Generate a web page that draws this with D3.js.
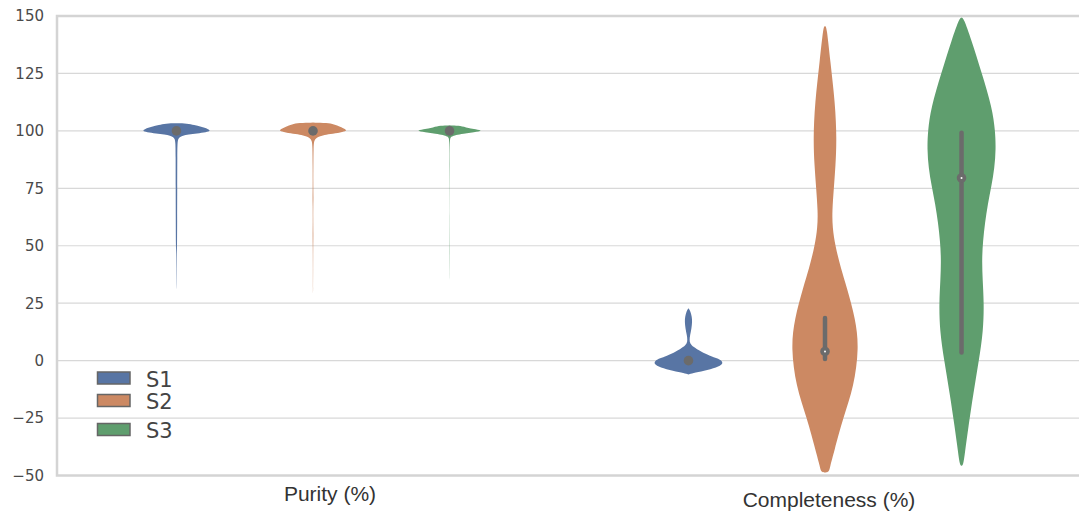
<!DOCTYPE html>
<html lang="en">
<head>
    <meta charset="UTF-8">
    <title>Purity and completeness violins</title>
    <script src="https://cdn.jsdelivr.net/npm/d3@7"></script>
    <style>
        body { margin: 0; background: #fff; }
        #chart { width: 1079px; height: 513px; overflow: hidden; }
    </style>
</head>
<body>
    <div id="chart"></div>
    <script>
        // Categories, series and tick values
        const categories = ["Purity (%)", "Completeness (%)"];
        const seriesNames = ["S1", "S2", "S3"];
        const seriesColors = ["#5875a4", "#cc8963", "#5f9e6e"];
        const yTicks = [-50, -25, 0, 25, 50, 75, 100, 125, 150];

        // Violin outlines: [value, relative half-width]
        const purityS1 = [[103.3,0],[103.2,0.32],[102.6,0.52],[101.8,0.72],[100.8,0.94],[100,1.0],[99.4,0.88],[98.9,0.6],[98.4,0.35],[97.9,0.18],[97.3,0.09],[96.5,0.05],[95,0.03],[90,0.024],[75,0.022],[60,0.02],[50,0.018],[47,0.008],[40,0.006],[33,0.004],[31,0]];
        const purityS2 = [[103.6,0],[103.5,0.42],[102.8,0.62],[101.8,0.8],[100.8,0.95],[100,1.0],[99.3,0.82],[98.6,0.5],[98,0.28],[97.3,0.14],[96.5,0.07],[95.5,0.03],[93,0.015],[85,0.01],[75,0.008],[71,0.014],[68,0.008],[60,0.006],[55,0.012],[50,0.006],[40,0.004],[30,0.003],[29.5,0]];
        const purityS3 = [[102.4,0],[102.3,0.27],[101.5,0.47],[100.7,0.78],[100,1.0],[99.4,0.72],[98.8,0.4],[98.2,0.18],[97.5,0.06],[97,0.02],[95,0.006],[88,0.004],[85,0.006],[80,0.003],[60,0.002],[42,0.004],[38,0.002],[35,0]];
        const completenessS1 = [[22.8,0],[21.5,0.06],[19,0.1],[17,0.11],[14,0.09],[11,0.045],[9,0.03],[7.5,0.045],[6,0.14],[4,0.36],[2,0.65],[1,0.84],[0,0.98],[-1.5,1.02],[-3,0.84],[-4.5,0.45],[-5.5,0.12],[-6,0]];
        const completenessS2 = [[145.6,0],[145.4,0.05],[131,0.15],[112,0.3],[96,0.345],[85,0.31],[75,0.26],[65,0.21],[58,0.22],[50,0.3],[40,0.47],[32,0.64],[18,0.9],[5.6,1.0],[-11.4,0.85],[-24.5,0.54],[-40,0.26],[-46,0.15],[-48.6,0.12],[-48.7,0]];
        const completenessS3 = [[149.3,0],[149.2,0.06],[140,0.28],[125,0.6],[110,0.9],[100,0.99],[92,1.01],[84,0.97],[76,0.88],[68,0.77],[60,0.69],[52,0.63],[44,0.6],[35,0.62],[25,0.66],[13,0.64],[0,0.51],[-14,0.35],[-29,0.2],[-40,0.1],[-45.6,0.05],[-45.8,0]];

        // Inner box stats per series: low end, median, high end
        const purityLow = [100, 100, 100];
        const purityMedian = [100, 100, 100];
        const purityHigh = [100, 100, 100];
        const completenessLow = [0, 0.7, 3.5];
        const completenessMedian = [0, 4, 79.5];
        const completenessHigh = [0, 18.5, 99.2];

        const violins = [
            { cat: categories[0], shapes: [purityS1, purityS2, purityS3], low: purityLow, med: purityMedian, high: purityHigh },
            { cat: categories[1], shapes: [completenessS1, completenessS2, completenessS3], low: completenessLow, med: completenessMedian, high: completenessHigh }
        ];

        const plotLeft = 57, plotTop = 16, plotBottom = 475.5, plotRight = 1081;
        const svg = d3.select("#chart").append("svg")
            .attr("width", 1079).attr("height", 513);

        const y = d3.scaleLinear().domain([-50, 150]).range([plotBottom, plotTop]);
        const x = d3.scaleBand().domain(categories).range([plotLeft, plotRight]);
        const hue = d3.scaleBand().domain(seriesNames)
            .range([x.bandwidth() * 0.1, x.bandwidth() * 0.9]);
        const w = d3.scaleLinear().domain([0, 1]).range([0, 34]);
        const color = d3.scaleOrdinal().domain(seriesNames).range(seriesColors);

        // grid
        svg.append("g").selectAll("line")
            .data(yTicks).enter().append("line")
            .attr("x1", plotLeft).attr("x2", plotRight)
            .attr("y1", d => y(d)).attr("y2", d => y(d))
            .attr("stroke", "#d8d8d8").attr("stroke-width", 1.2);

        // frame
        svg.append("rect")
            .attr("x", plotLeft).attr("y", plotTop)
            .attr("width", plotRight - plotLeft).attr("height", plotBottom - plotTop)
            .attr("fill", "none").attr("stroke", "#d4d4d4").attr("stroke-width", 2.5);

        // y axis
        const yAxis = svg.append("g")
            .attr("transform", `translate(${plotLeft},0)`)
            .call(d3.axisLeft(y).tickValues(yTicks).tickSize(0).tickPadding(13));
        yAxis.select(".domain").remove();
        yAxis.selectAll("text")
            .style("font-family", "DejaVu Sans, sans-serif")
            .style("font-size", "15px")
            .attr("fill", "#4a4a4a");

        // violins
        violins.forEach(v => {
            seriesNames.forEach((s, i) => {
                const cx = x(v.cat) + hue(s) + hue.bandwidth() / 2;
                const area = d3.area()
                    .curve(d3.curveBasis)
                    .y(d => y(d[0]))
                    .x0(d => cx - w(d[1]))
                    .x1(d => cx + w(d[1]));
                svg.append("path")
                    .datum(v.shapes[i])
                    .attr("d", area)
                    .attr("fill", color(s));

                if (v.high[i] > v.low[i]) {
                    svg.append("line")
                        .attr("x1", cx).attr("x2", cx)
                        .attr("y1", y(v.low[i])).attr("y2", y(v.high[i]))
                        .attr("stroke", "#6b6b6b").attr("stroke-width", 4.5)
                        .attr("stroke-linecap", "round");
                }
                svg.append("circle")
                    .attr("cx", cx).attr("cy", y(v.med[i]))
                    .attr("r", 4.8).attr("fill", "#6b6b6b");
                if (v.high[i] > v.low[i]) {
                    svg.append("circle")
                        .attr("cx", cx).attr("cy", y(v.med[i]))
                        .attr("r", 1).attr("fill", "#fff");
                }
            });
        });

        // category labels
        const labelShift = [[17, 501], [4, 507]];
        svg.append("g").selectAll("text")
            .data(categories).enter().append("text")
            .attr("x", (d, i) => x(d) + x.bandwidth() / 2 + labelShift[i][0])
            .attr("y", (d, i) => labelShift[i][1])
            .attr("text-anchor", "middle")
            .style("font-family", "Liberation Sans, Arial, sans-serif")
            .style("font-size", "21px")
            .attr("fill", "#333")
            .text(d => d);

        // legend
        const legendY = [372, 394.5, 423.5];
        const legend = svg.append("g");
        seriesNames.forEach((s, i) => {
            legend.append("rect")
                .attr("x", 97.5).attr("y", legendY[i])
                .attr("width", 32.5).attr("height", 12)
                .attr("fill", color(s))
                .attr("stroke", "#666").attr("stroke-width", 1.5);
            legend.append("text")
                .attr("x", 146).attr("y", legendY[i] + 14.5)
                .style("font-family", "DejaVu Sans, sans-serif")
                .style("font-size", "21px")
                .attr("fill", "#444")
                .text(s);
        });
    </script>
</body>
</html>
